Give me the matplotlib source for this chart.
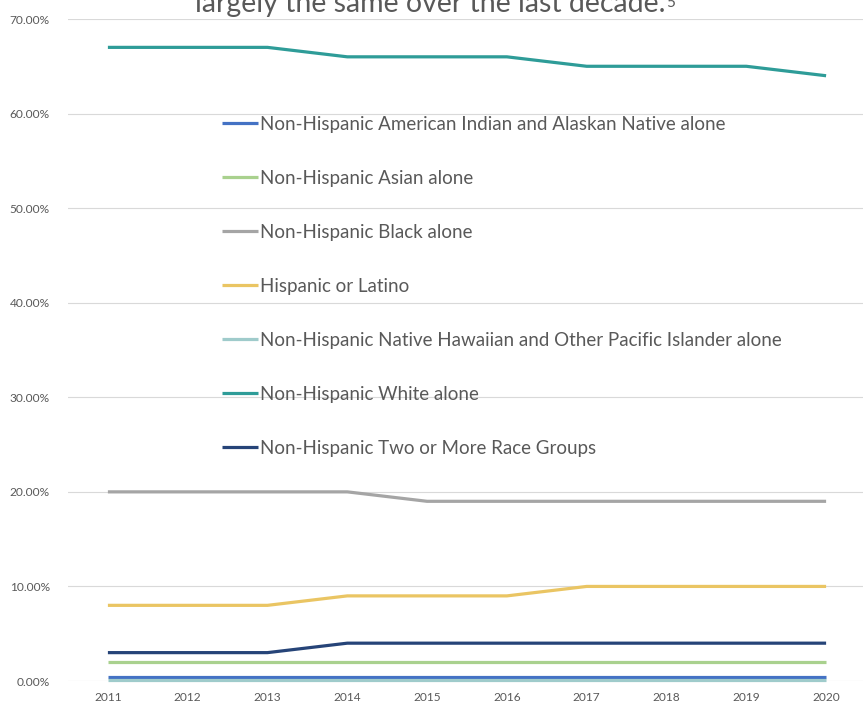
import matplotlib
matplotlib.use("Agg")
import matplotlib.pyplot as plt
from matplotlib.ticker import PercentFormatter

plt.rcParams['font.family'] = ['Lato', 'DejaVu Sans']

years = [2011, 2012, 2013, 2014, 2015, 2016, 2017, 2018, 2019, 2020]

series_names = [
    "Non-Hispanic American Indian and Alaskan Native alone",
    "Non-Hispanic Asian alone",
    "Non-Hispanic Black alone",
    "Hispanic or Latino",
    "Non-Hispanic Native Hawaiian and Other Pacific Islander alone",
    "Non-Hispanic White alone",
    "Non-Hispanic Two or More Race Groups",
]

aian = [0.4, 0.4, 0.4, 0.4, 0.4, 0.4, 0.4, 0.4, 0.4, 0.4]
asian = [2, 2, 2, 2, 2, 2, 2, 2, 2, 2]
black = [20, 20, 20, 20, 19, 19, 19, 19, 19, 19]
hispanic = [8, 8, 8, 9, 9, 9, 10, 10, 10, 10]
nhpi = [0.1, 0.1, 0.1, 0.1, 0.1, 0.1, 0.1, 0.1, 0.1, 0.1]
white = [67, 67, 67, 66, 66, 66, 65, 65, 65, 64]
two_plus = [3, 3, 3, 4, 4, 4, 4, 4, 4, 4]

values = [aian, asian, black, hispanic, nhpi, white, two_plus]
colors = ['#4472C4', '#A9D18E', '#A5A5A5', '#EAC563', '#9FCBCB', '#2E9C98', '#264478']

W, H = 863, 706
fig = plt.figure(figsize=(W / 100, H / 100), dpi=100)
ax = fig.add_axes([68 / W, 25 / H, (866 - 68) / W, (681 - 19) / H])

for name, vals, c in zip(series_names, values, colors):
    ax.plot(years, [v / 100 for v in vals], color=c, lw=2.3, label=name,
            solid_capstyle='butt', solid_joinstyle='round', clip_on=False)

ax.set_xlim(2010.5, 2020.5)
ax.set_ylim(0, 0.7)
ax.set_yticks([i / 10 for i in range(8)])
ax.set_xticks(years)
ax.yaxis.set_major_formatter(PercentFormatter(1.0, decimals=2))
ax.grid(axis='y', color='#D9D9D9', lw=0.8)
ax.set_axisbelow(True)
for s in ax.spines.values():
    s.set_visible(False)
ax.tick_params(length=0, labelsize=8.6, colors='#595959')
ax.tick_params(axis='y', pad=13)
ax.tick_params(axis='x', pad=8)

ax.legend(loc='upper left', bbox_to_anchor=(222 / W, 1 - 116 / H),
          bbox_transform=fig.transFigure, frameon=False, fontsize=13.5,
          labelspacing=1.97, handlelength=1.92, handletextpad=0.1,
          borderpad=0, borderaxespad=0, labelcolor='#595959')

# title is cropped at the top in the source image
title = fig.text(430 / W, 1 - 12 / H, "largely the same over the last decade.",
                 ha='center', va='baseline', fontsize=20.5, color='#595959')
fig.canvas.draw()
bb = title.get_window_extent()
fig.text((bb.x1 + 1) / W, 1 - 7 / H, "5", ha='left', va='baseline',
         fontsize=11, color='#595959')

fig.savefig('out.png', dpi=100)
